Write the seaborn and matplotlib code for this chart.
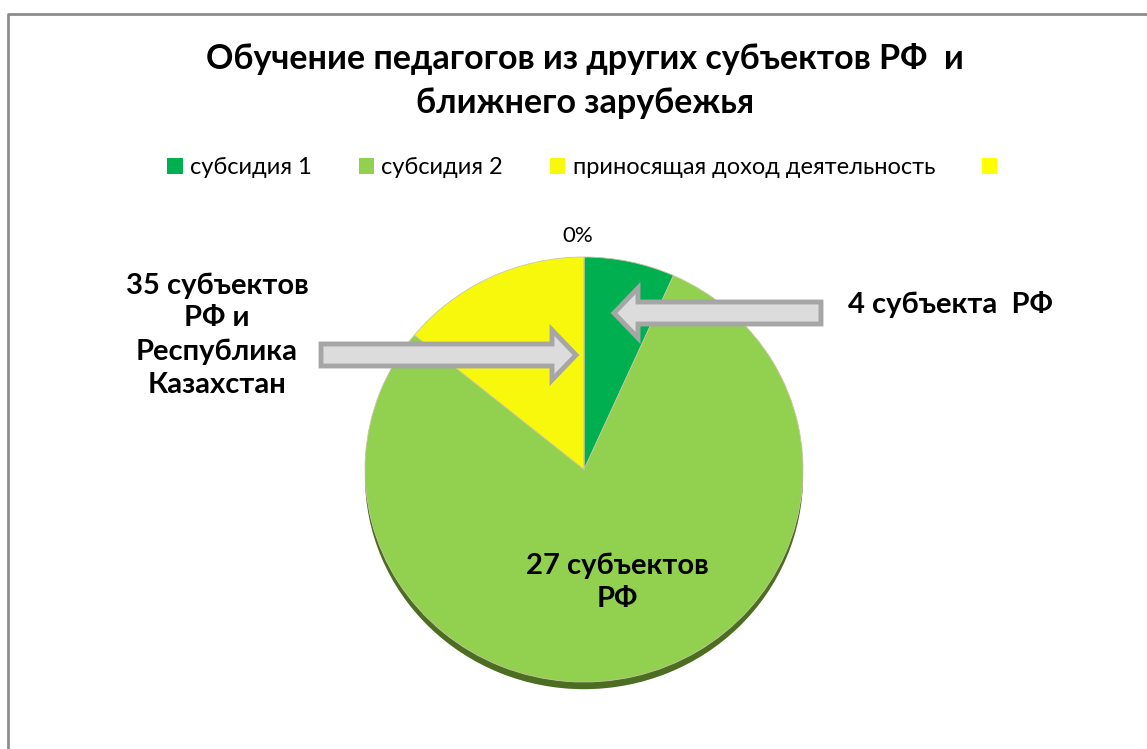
import numpy as np
import matplotlib
matplotlib.use("Agg")
import matplotlib.pyplot as plt
import seaborn as sns
from matplotlib.patches import Patch, Polygon

# data
categories = ["субсидия 1", "субсидия 2", "приносящая доход деятельность", ""]
shares = [6.7, 79.2, 14.1, 0.0]
colors = ["#00b050", "#92d050", "#f8f80c", "#ffff00"]

title = "Обучение педагогов из других субъектов РФ  и\nближнего зарубежья"
note_right = "4 субъекта  РФ"
note_left = "35 субъектов\nРФ и\nРеспублика\nКазахстан"
note_mid = "27 субъектов\nРФ"

sns.set_theme(style="white")
plt.rcParams["font.family"] = ["Lato", "DejaVu Sans"]
plt.rcParams["text.color"] = "black"

W, H = 1147, 749
fig = plt.figure(figsize=(W / 100, H / 100), dpi=100)
fig.patch.set_facecolor("white")

# overlay axes in pixel coordinates for frame / arrows / notes
ov = fig.add_axes([0, 0, 1, 1], zorder=3)
ov.set_xlim(0, W)
ov.set_ylim(H, 0)
ov.axis("off")
ov.patch.set_alpha(0)

# chart frame (cropped at right and bottom)
ov.plot([7.5, 7.5, W + 5], [H + 5, 13.5, 13.5], color="#8c8c8c", lw=2)

# pie axes: top face spans x 365..803, y 257..682, dark side down to ~690
px0, px1, py0, py1 = 365, 803, 257, 690
rim = 8
ax = fig.add_axes([px0 / W, 1 - py1 / H, (px1 - px0) / W, (py1 - py0) / H], zorder=1)
face_h = (py1 - py0) - rim
drop = 2 * rim / face_h

ax.pie([1], colors=["#4b6e23"], radius=1, center=(0, -drop * 0.9),
       startangle=90, wedgeprops=dict(linewidth=0))
wedges, _ = ax.pie(shares, colors=colors, startangle=90, counterclock=False,
                   radius=1, wedgeprops=dict(linewidth=0.6, edgecolor="#c8c8a0"))
ax.set_aspect("auto")
ax.set_xlim(-1, 1)
ax.set_ylim(-1 - drop, 1)
ax.axis("off")

# data label of the empty category
cum = np.cumsum(shares) / np.sum(shares)
ang = np.deg2rad(90 - 360 * cum[-1])
ax.text(1.1 * np.cos(ang) - 0.03, 1.1 * np.sin(ang), f"{shares[-1]:.0f}%",
        ha="center", va="center", fontsize=16)

# legend
handles = [Patch(facecolor=c, edgecolor="none") for c in colors]
fig.legend(handles, categories, loc="center", bbox_to_anchor=(586 / W, 1 - 168 / H),
           ncol=4, frameon=False, fontsize=17, handlelength=0.65, handleheight=0.65,
           handletextpad=0.3, columnspacing=2.0, labelcolor="black")

fig.text(585 / W, 1 - 81 / H, title, ha="center", va="center", fontsize=24.5,
         fontweight="bold", linespacing=1.45)


def block_arrow(tail_x, tip_x, y, shaft=22, head=50, head_len=24):
    d = 1 if tip_x > tail_x else -1
    base = tip_x - d * head_len
    pts = [(tail_x, y - shaft / 2), (base, y - shaft / 2), (base, y - head / 2),
           (tip_x, y), (base, y + head / 2), (base, y + shaft / 2), (tail_x, y + shaft / 2)]
    ov.add_patch(Polygon(pts, closed=True, facecolor="#dcdcdc", edgecolor="#a6a6a6",
                         lw=3.5, joinstyle="miter"))


block_arrow(321, 576, 355)
block_arrow(821, 614, 313)

ov.text(848, 305, note_right, ha="left", va="center", fontsize=21, fontweight="bold")
ov.text(217, 335, note_left, ha="center", va="center", fontsize=21, fontweight="bold",
        linespacing=1.33)
ov.text(617, 582, note_mid, ha="center", va="center", fontsize=21, fontweight="bold",
        linespacing=1.33)

fig.savefig("out.png", dpi=100, facecolor="white")
